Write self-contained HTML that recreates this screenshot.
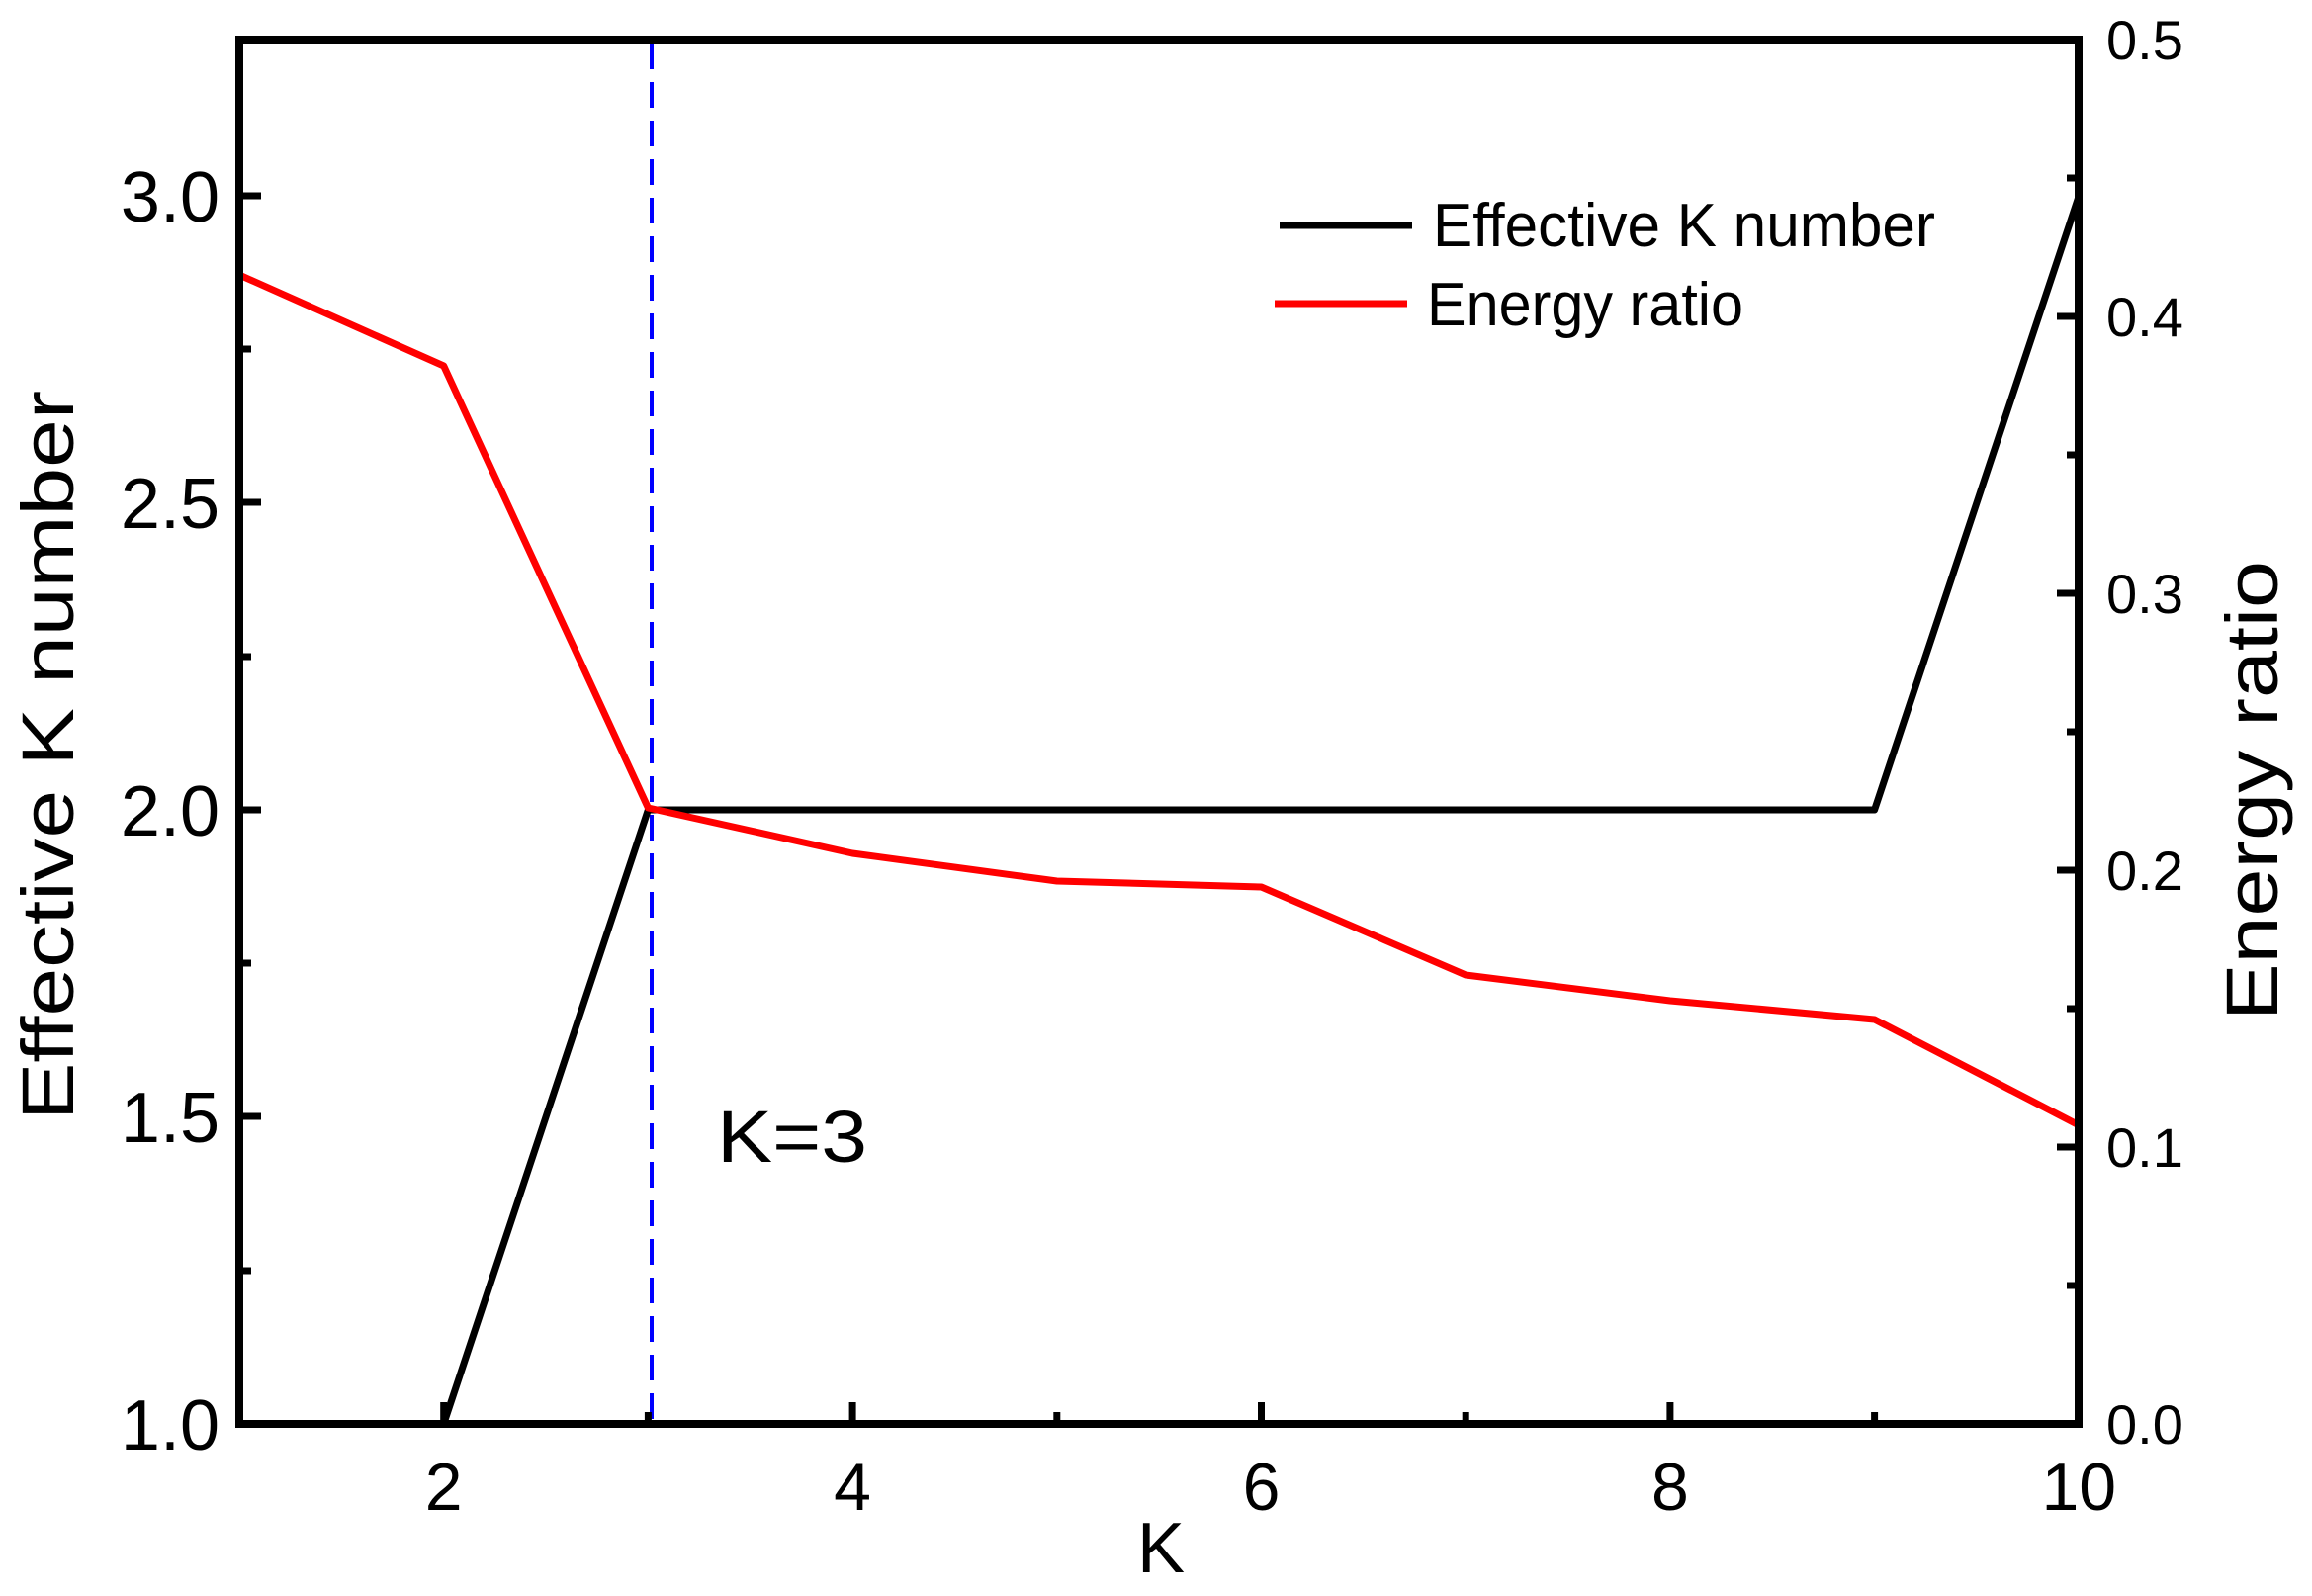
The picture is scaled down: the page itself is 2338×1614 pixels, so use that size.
<!DOCTYPE html>
<html><head><meta charset="utf-8"><style>
html,body{margin:0;padding:0;background:#fff;}
svg{display:block;}
text{font-family:"Liberation Sans Narrow","Liberation Sans",sans-serif;fill:#000;}
</style></head><body>
<svg width="2338" height="1614" viewBox="0 0 2338 1614" xmlns="http://www.w3.org/2000/svg">
<rect width="2338" height="1614" fill="#fff"/>
<line x1="659" y1="44" x2="659" y2="1437" stroke="#0000ff" stroke-width="4" stroke-dasharray="26,13"/>
<polyline fill="none" stroke="#000" stroke-width="7" stroke-linejoin="round" points="448.7,1440 655.4,819 1895.6,819 2102.3,198"/>
<polyline fill="none" stroke="#ff0000" stroke-width="7" stroke-linejoin="round" points="242,278 448.7,370 655.4,817 862.1,863 1068.8,891 1275.5,897 1482.2,986 1688.9,1012 1895.6,1031 2102.3,1138"/>
<rect x="242" y="40" width="1860" height="1400" fill="none" stroke="#000" stroke-width="8"/>
<g stroke="#000" stroke-width="7">
<line x1="242" y1="198" x2="264" y2="198"/><line x1="242" y1="508" x2="264" y2="508"/><line x1="242" y1="819" x2="264" y2="819"/><line x1="242" y1="1129" x2="264" y2="1129"/>
<line x1="242" y1="353" x2="254" y2="353"/><line x1="242" y1="664" x2="254" y2="664"/><line x1="242" y1="974" x2="254" y2="974"/><line x1="242" y1="1285" x2="254" y2="1285"/>
<line x1="2102" y1="320" x2="2080" y2="320"/><line x1="2102" y1="600" x2="2080" y2="600"/><line x1="2102" y1="880" x2="2080" y2="880"/><line x1="2102" y1="1160" x2="2080" y2="1160"/>
<line x1="2102" y1="180" x2="2090" y2="180"/><line x1="2102" y1="460" x2="2090" y2="460"/><line x1="2102" y1="740" x2="2090" y2="740"/><line x1="2102" y1="1020" x2="2090" y2="1020"/><line x1="2102" y1="1300" x2="2090" y2="1300"/>
<line x1="448.7" y1="1440" x2="448.7" y2="1418"/><line x1="862.1" y1="1440" x2="862.1" y2="1418"/><line x1="1275.5" y1="1440" x2="1275.5" y2="1418"/><line x1="1688.9" y1="1440" x2="1688.9" y2="1418"/>
<line x1="655.4" y1="1440" x2="655.4" y2="1428"/><line x1="1068.8" y1="1440" x2="1068.8" y2="1428"/><line x1="1482.2" y1="1440" x2="1482.2" y2="1428"/><line x1="1895.6" y1="1440" x2="1895.6" y2="1428"/>
</g>
<g font-size="72" text-anchor="end">
<text x="222" y="224">3.0</text><text x="222" y="534">2.5</text><text x="222" y="845">2.0</text><text x="222" y="1155">1.5</text><text x="222" y="1466">1.0</text>
</g>
<g font-size="56" text-anchor="start">
<text x="2130" y="60">0.5</text><text x="2130" y="340">0.4</text><text x="2130" y="620">0.3</text><text x="2130" y="900">0.2</text><text x="2130" y="1180">0.1</text><text x="2130" y="1460">0.0</text>
</g>
<g font-size="68" text-anchor="middle">
<text x="448.7" y="1527">2</text><text x="862.1" y="1527">4</text><text x="1275.5" y="1527">6</text><text x="1688.9" y="1527">8</text><text x="2102.3" y="1527">10</text>
</g>
<text x="1174" y="1590" font-size="72" text-anchor="middle" font-family="Liberation Sans, sans-serif">K</text>
<text transform="translate(74,1133) rotate(-90)" font-size="74" textLength="738" lengthAdjust="spacingAndGlyphs" font-family="Liberation Sans, sans-serif">Effective K number</text>
<text transform="translate(2303,1032) rotate(-90)" font-size="74" textLength="465" lengthAdjust="spacingAndGlyphs" font-family="Liberation Sans, sans-serif">Energy ratio</text>
<line x1="1294" y1="228" x2="1428" y2="228" stroke="#000" stroke-width="7"/>
<text x="1449" y="249" font-size="62" textLength="508" lengthAdjust="spacingAndGlyphs">Effective K number</text>
<line x1="1289" y1="307" x2="1423" y2="307" stroke="#ff0000" stroke-width="7"/>
<text x="1443" y="329" font-size="62" textLength="320" lengthAdjust="spacingAndGlyphs">Energy ratio</text>
<text x="725" y="1175" font-size="74" textLength="152" lengthAdjust="spacingAndGlyphs">K=3</text>
</svg>
</body></html>
